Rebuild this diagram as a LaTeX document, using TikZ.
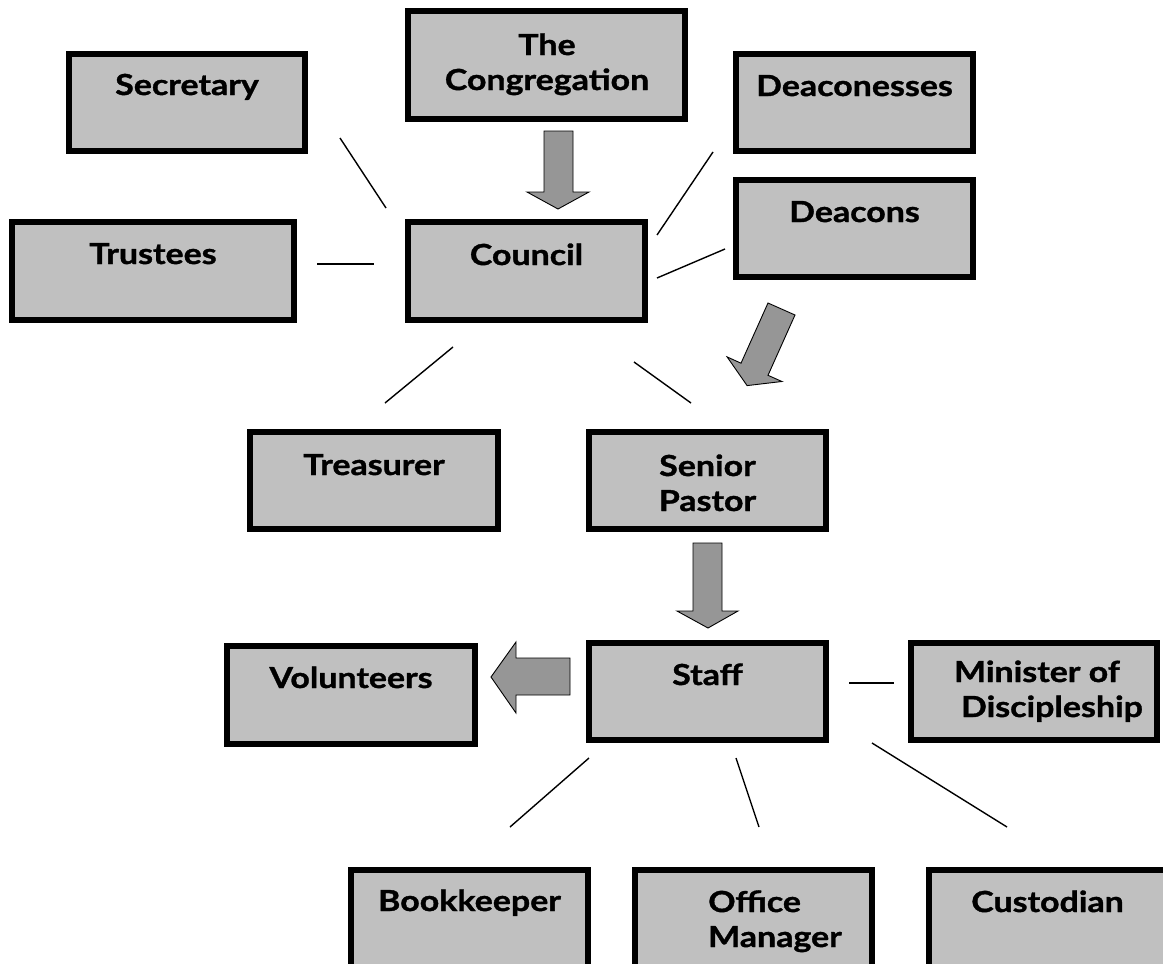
\documentclass[tikz,border=0pt]{standalone}
\usepackage{fontspec}
\setmainfont{Lato}[BoldFeatures={FakeStretch=1.17,FakeBold=1.2}]
\definecolor{boxgray}{HTML}{C0C0C0}
\definecolor{arrowgray}{HTML}{969696}
\tikzset{
  box/.style 2 args={draw=black, line width=6pt, fill=boxgray, rectangle, inner sep=0pt, minimum width=#1, minimum height=#2},
  lbl/.style={font=\bfseries\fontsize{29}{35}\selectfont, align=center, inner sep=0pt, anchor=base},
  link/.style={draw=black, line width=1.4pt},
  blockarrow/.style={draw=black, line width=0.9pt, fill=arrowgray, line join=miter}
}
\begin{document}
\begin{tikzpicture}[x=1pt,y=-1pt]
\useasboundingbox (0,0) rectangle (1163,964);
\clip (0,0) rectangle (1163,964);
\fill[white] (0,0) rectangle (1163,964);

% boxes
\node[box={277}{108}] (cong) at (546.5,65) {};
\node[box={236}{97}] (sec) at (187,102.5) {};
\node[box={237}{97}] (dcs) at (854.5,102.5) {};
\node[box={237}{97}] (dcn) at (854.5,228.5) {};
\node[box={282}{98}] (trus) at (153,271) {};
\node[box={237}{98}] (coun) at (526.5,271) {};
\node[box={248}{97}] (treas) at (374,480.5) {};
\node[box={237}{97}] (sen) at (707.5,480.5) {};
\node[box={237}{97}] (staff) at (707.5,691.5) {};
\node[box={248}{98}] (vol) at (351,695) {};
\node[box={246}{97}] (min) at (1034,691.5) {};
\node[box={237}{97}] (book) at (469.5,918.5) {};
\node[box={237}{97}] (off) at (753.5,918.5) {};
\node[box={237}{97}] (cust) at (1047.5,918.5) {};

% labels (multi-line labels are placed by the baseline of their last line)
\node[lbl] (cong-t) at (547,90) {The\\Congregation};
\node[lbl] (sec-t) at (187,95) {Secretary};
\node[lbl] (dcs-t) at (854.5,96) {Deaconesses};
\node[lbl] (dcn-t) at (854.5,222) {Deacons};
\node[lbl] (trus-t) at (153,264) {Trustees};
\node[lbl] (coun-t) at (526.5,265) {Council};
\node[lbl] (treas-t) at (374,475) {Treasurer};
\node[lbl] (sen-t) at (707.5,511) {Senior\\Pastor};
\node[lbl] (staff-t) at (707.5,685) {Staff};
\node[lbl] (vol-t) at (351,688) {Volunteers};
\node[lbl] (min-t) at (1037,717) {Minister of\\\hspace*{30pt}Discipleship};
\node[lbl] (book-t) at (469.5,911) {Bookkeeper};
\node[lbl, align=left, anchor=base west] (off-t) at (708,947) {Office\\Manager};
\node[lbl] (cust-t) at (1047.5,912) {Custodian};

% connector end points
\coordinate (c1a) at (340,138); \coordinate (c1b) at (386,208);
\coordinate (c2a) at (317,264); \coordinate (c2b) at (374,264);
\coordinate (c3a) at (713,152); \coordinate (c3b) at (657,235);
\coordinate (c4a) at (725,249); \coordinate (c4b) at (657,278);
\coordinate (c5a) at (453,347); \coordinate (c5b) at (385,403);
\coordinate (c6a) at (634,362); \coordinate (c6b) at (691,403);
\coordinate (c7a) at (849,683); \coordinate (c7b) at (894,683);
\coordinate (c8a) at (589,758); \coordinate (c8b) at (510,827);
\coordinate (c9a) at (736,758); \coordinate (c9b) at (759,827);
\coordinate (c10a) at (872,743); \coordinate (c10b) at (1007,827);

\draw[link] (c1a) -- (c1b);
\draw[link] (c2a) -- (c2b);
\draw[link] (c3a) -- (c3b);
\draw[link] (c4a) -- (c4b);
\draw[link] (c5a) -- (c5b);
\draw[link] (c6a) -- (c6b);
\draw[link] (c7a) -- (c7b);
\draw[link] (c8a) -- (c8b);
\draw[link] (c9a) -- (c9b);
\draw[link] (c10a) -- (c10b);

% block arrows
\draw[blockarrow] (544,131) -- (573,131) -- (573,192) -- (589,192) -- (558,209) -- (527,192) -- (544,192) -- cycle;
\draw[blockarrow] (693,543) -- (722,543) -- (722,611) -- (738,611) -- (708,628) -- (677,611) -- (693,611) -- cycle;
\draw[blockarrow] (570,658) -- (570,695) -- (516,695) -- (516,713) -- (491,677) -- (516,642) -- (516,658) -- cycle;
\draw[blockarrow] (768,303) -- (741,363.2) -- (727.1,356.9) -- (747.1,385.6) -- (781.9,381.5) -- (768,375.3) -- (795,315) -- cycle;
\end{tikzpicture}
\end{document}
